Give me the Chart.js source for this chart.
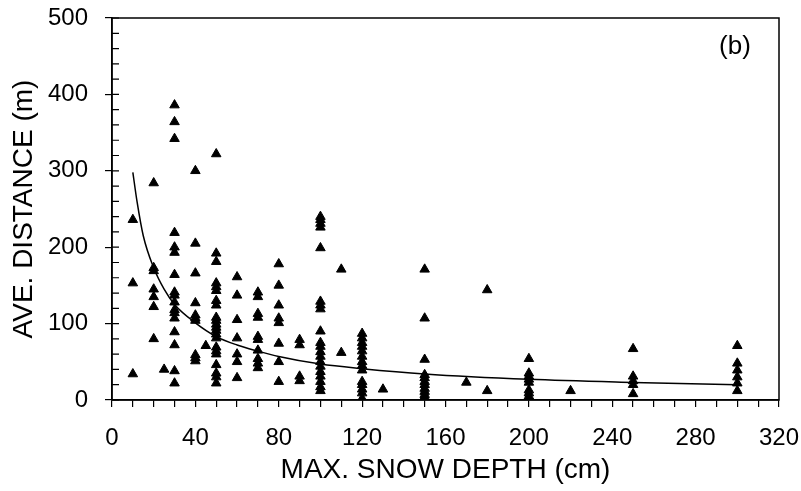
<!DOCTYPE html>
<html>
<head>
<meta charset="utf-8">
<script src="https://cdn.jsdelivr.net/npm/chart.js@4/dist/chart.umd.min.js"></script>
<style>
    html, body { margin: 0; padding: 0; background: #fff; }
    #wrap { width: 801px; height: 491px; }
</style>
</head>
<body>
<div id="wrap"><canvas id="snowChart"></canvas></div>
<script>
// max snow depth (cm) columns and the distances measured at each
const depths = [10, 20, 25, 30, 40, 45, 50, 60, 70, 80, 90, 100, 110, 120, 130, 150, 170, 180, 200, 220, 250, 300];
const distances = [
    [236, 153, 34],
    [284, 173, 169, 145, 135, 122, 80],
    [40],
    [386, 364, 342, 219, 200, 193, 164, 141, 137, 128, 118, 114, 107, 89, 72, 38, 22],
    [300, 205, 166, 127, 111, 107, 104, 59, 55, 51],
    [71],
    [322, 192, 181, 153, 148, 143, 130, 124, 108, 104, 99, 95, 91, 86, 81, 69, 64, 60, 46, 35, 30, 22],
    [161, 137, 105, 81, 60, 50, 29],
    [141, 135, 113, 108, 83, 79, 65, 54, 48, 42],
    [178, 150, 124, 107, 101, 74, 50, 24],
    [79, 72, 31, 25],
    [240, 236, 231, 226, 199, 129, 124, 119, 90, 75, 70, 63, 57, 50, 44, 37, 31, 24, 17, 12],
    [171, 62],
    [87, 81, 75, 70, 64, 57, 50, 45, 39, 24, 20, 14, 9, 2],
    [14],
    [171, 107, 53, 33, 29, 24, 20, 15, 11, 7, 4],
    [23],
    [144, 12],
    [54, 35, 31, 27, 23, 13, 9, 5],
    [12],
    [67, 31, 25, 20, 8],
    [71, 48, 39, 30, 22, 12]
];

// fitted curve
const fitX = [10, 12, 15, 20, 25, 30, 40, 50, 60, 70, 80, 100, 120, 150, 200, 250, 300];
const fitY = [298, 260, 215, 173, 145, 125, 101, 83, 72, 64, 57, 47, 41, 34, 27, 23, 20];

const FONT = "'Liberation Sans', Arial, Helvetica, sans-serif";

const points = [];
depths.forEach((d, i) => distances[i].forEach(v => points.push({ x: d, y: v })));
const curve = fitX.map((x, i) => ({ x: x, y: fitY[i] }));

// keep label overhang from pushing the plot area around
function noPad(s) {
    s.paddingTop = 0;
    s.paddingBottom = 0;
    s.paddingLeft = 0;
    s.paddingRight = 0;
}

const framePlugin = {
    id: 'frame',
    afterDraw(chart) {
        const { ctx, chartArea: a, scales } = chart;
        ctx.save();
        ctx.strokeStyle = '#000';
        ctx.lineWidth = 1.5;
        ctx.strokeRect(a.left, a.top, a.right - a.left, a.bottom - a.top);
        // inner ticks on the y axis
        ctx.lineWidth = 1.2;
        ctx.beginPath();
        scales.y.ticks.forEach(t => {
            const py = scales.y.getPixelForValue(t.value);
            ctx.moveTo(a.left, py);
            ctx.lineTo(a.left + 7, py);
        });
        ctx.stroke();
        ctx.fillStyle = '#000';
        ctx.font = '26px ' + FONT;
        ctx.textAlign = 'center';
        ctx.textBaseline = 'middle';
        ctx.fillText('(b)', 735, 47);
        ctx.restore();
    }
};

new Chart(document.getElementById('snowChart'), {
    type: 'scatter',
    data: {
        datasets: [{
            data: curve,
            showLine: true,
            borderColor: '#000',
            borderWidth: 1.5,
            pointRadius: 0,
            cubicInterpolationMode: 'monotone',
            fill: false,
        }, {
            data: points,
            pointStyle: 'triangle',
            pointRadius: 5.5,
            pointBorderWidth: 1,
            backgroundColor: '#000',
            borderColor: '#000',
        }]
    },
    options: {
        responsive: true,
        maintainAspectRatio: false,
        animation: false,
        layout: { padding: { top: 18, right: 22, left: 0, bottom: 0 } },
        plugins: {
            legend: { display: false },
            tooltip: { enabled: false }
        },
        scales: {
            x: {
                type: 'linear',
                min: 0,
                max: 320,
                afterFit: (s) => { s.height = 91; noPad(s); },
                ticks: {
                    stepSize: 10,
                    autoSkip: false,
                    maxRotation: 0,
                    padding: 17,
                    color: '#000',
                    font: { family: FONT, size: 24 },
                    callback: (v) => v % 40 === 0 ? v : ''
                },
                grid: { drawOnChartArea: false, tickLength: 7, color: '#000', lineWidth: 1.2 },
                border: { color: '#000', width: 1.5 },
                title: {
                    display: true,
                    text: 'MAX. SNOW DEPTH (cm)',
                    color: '#000',
                    font: { family: FONT, size: 28 },
                    padding: { top: 0, bottom: 4 }
                }
            },
            y: {
                min: 0,
                max: 500,
                afterFit: (s) => { s.width = 112; noPad(s); },
                ticks: {
                    stepSize: 20,
                    autoSkip: false,
                    padding: 17,
                    color: '#000',
                    font: { family: FONT, size: 24 },
                    callback: (v) => v % 100 === 0 ? v : ''
                },
                grid: {
                    drawOnChartArea: false,
                    tickLength: 7,
                    lineWidth: 1.2,
                    color: (c) => c.tick && c.tick.value % 100 === 0 ? '#000' : 'rgba(0,0,0,0)'
                },
                border: { color: '#000', width: 1.5 },
                title: {
                    display: true,
                    text: 'AVE. DISTANCE (m)',
                    color: '#000',
                    font: { family: FONT, size: 28 },
                    padding: { top: 7, bottom: 0 }
                }
            }
        }
    },
    plugins: [framePlugin]
});
</script>
</body>
</html>
